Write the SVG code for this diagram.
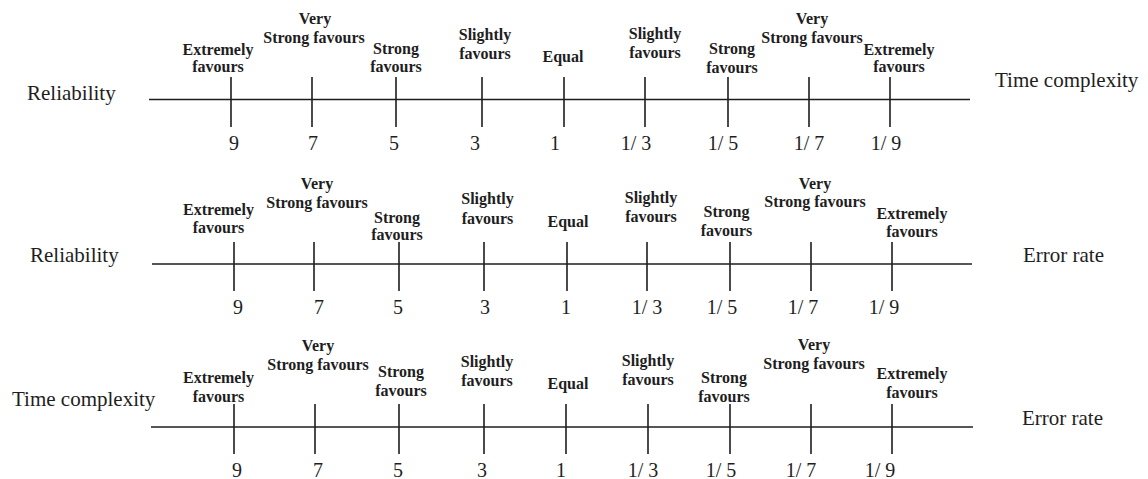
<svg xmlns="http://www.w3.org/2000/svg" width="1148" height="479" viewBox="0 0 1148 479">
  <style>
    .axis { stroke: #1e1e1e; stroke-width: 1.6; fill: none; }
    .lbl { font-family: "Liberation Serif", "Times New Roman", serif; font-weight: bold; font-size: 16px; fill: #1e1e1e; text-anchor: middle; }
    .side { font-family: "Liberation Serif", "Times New Roman", serif; font-size: 21px; fill: #1e1e1e; }
    .num { font-family: "Liberation Serif", "Times New Roman", serif; font-size: 20px; fill: #1e1e1e; text-anchor: middle; }
  </style>
  <rect width="1148" height="479" fill="#ffffff"/>

  <!-- Scale lines with tick marks -->
  <g id="connectors">
    <g id="scale-1-axis" class="axis">
      <line x1="149" y1="99.5" x2="970" y2="99.5"/>
      <path d="M231 77V127M312 77V127M396 77V127M482 77V127M564 77V127M645 77V127M728 77V127M809 77V127M890 77V127"/>
    </g>
    <g id="scale-2-axis" class="axis">
      <line x1="152" y1="264" x2="972" y2="264"/>
      <path d="M234 242V291M314 242V291M399 242V291M484 242V291M567 242V291M647 242V291M730 242V291M811 242V291M892 242V291"/>
    </g>
    <g id="scale-3-axis" class="axis">
      <line x1="151" y1="427" x2="973" y2="427"/>
      <path d="M234 404V454M315 404V454M399 404V454M484 404V454M566 404V454M648 404V454M730 404V454M811 404V454M892 404V454"/>
    </g>
  </g>

  <!-- Scale 1: Reliability vs Time complexity -->
  <g id="scale-1">
    <text class="side" x="27" y="100">Reliability</text>
    <text class="side" x="995" y="87">Time complexity</text>
    <g id="s1-extreme-left"><text class="lbl" x="218" y="55">Extremely</text><text class="lbl" x="218" y="72">favours</text></g>
    <g id="s1-verystrong-left"><text class="lbl" x="315" y="24">Very</text><text class="lbl" x="314" y="43">Strong favours</text></g>
    <g id="s1-strong-left"><text class="lbl" x="396" y="54">Strong</text><text class="lbl" x="396" y="72">favours</text></g>
    <g id="s1-slight-left"><text class="lbl" x="485" y="40">Slightly</text><text class="lbl" x="485" y="58.5">favours</text></g>
    <g id="s1-equal"><text class="lbl" x="563" y="61.5">Equal</text></g>
    <g id="s1-slight-right"><text class="lbl" x="655" y="39">Slightly</text><text class="lbl" x="655" y="57.5">favours</text></g>
    <g id="s1-strong-right"><text class="lbl" x="732" y="54">Strong</text><text class="lbl" x="732" y="73">favours</text></g>
    <g id="s1-verystrong-right"><text class="lbl" x="812" y="23.5">Very</text><text class="lbl" x="812" y="42.5">Strong favours</text></g>
    <g id="s1-extreme-right"><text class="lbl" x="899" y="55">Extremely</text><text class="lbl" x="899" y="72">favours</text></g>
    <g id="s1-values">
      <text class="num" x="234" y="150">9</text>
      <text class="num" x="313" y="150">7</text>
      <text class="num" x="394" y="150">5</text>
      <text class="num" x="475" y="150">3</text>
      <text class="num" x="555" y="150">1</text>
      <text class="num" x="636" y="150">1/ 3</text>
      <text class="num" x="723" y="150">1/ 5</text>
      <text class="num" x="809" y="150">1/ 7</text>
      <text class="num" x="886" y="150">1/ 9</text>
    </g>
  </g>

  <!-- Scale 2: Reliability vs Error rate -->
  <g id="scale-2">
    <text class="side" x="30" y="262">Reliability</text>
    <text class="side" x="1023" y="262">Error rate</text>
    <g id="s2-extreme-left"><text class="lbl" x="218.5" y="215">Extremely</text><text class="lbl" x="218.5" y="233">favours</text></g>
    <g id="s2-verystrong-left"><text class="lbl" x="317" y="189">Very</text><text class="lbl" x="317" y="208">Strong favours</text></g>
    <g id="s2-strong-left"><text class="lbl" x="397" y="223">Strong</text><text class="lbl" x="397" y="240">favours</text></g>
    <g id="s2-slight-left"><text class="lbl" x="487.5" y="204">Slightly</text><text class="lbl" x="487.5" y="223.5">favours</text></g>
    <g id="s2-equal"><text class="lbl" x="568" y="226.5">Equal</text></g>
    <g id="s2-slight-right"><text class="lbl" x="651" y="203">Slightly</text><text class="lbl" x="651" y="222">favours</text></g>
    <g id="s2-strong-right"><text class="lbl" x="726.5" y="217">Strong</text><text class="lbl" x="726.5" y="235.5">favours</text></g>
    <g id="s2-verystrong-right"><text class="lbl" x="815" y="188.5">Very</text><text class="lbl" x="815" y="206.5">Strong favours</text></g>
    <g id="s2-extreme-right"><text class="lbl" x="912" y="218.5">Extremely</text><text class="lbl" x="912" y="237">favours</text></g>
    <g id="s2-values">
      <text class="num" x="238" y="313.5">9</text>
      <text class="num" x="319" y="313.5">7</text>
      <text class="num" x="398" y="313.5">5</text>
      <text class="num" x="485" y="313.5">3</text>
      <text class="num" x="566" y="313.5">1</text>
      <text class="num" x="647" y="313.5">1/ 3</text>
      <text class="num" x="722" y="313.5">1/ 5</text>
      <text class="num" x="803" y="313.5">1/ 7</text>
      <text class="num" x="884" y="313.5">1/ 9</text>
    </g>
  </g>

  <!-- Scale 3: Time complexity vs Error rate -->
  <g id="scale-3">
    <text class="side" x="12" y="406">Time complexity</text>
    <text class="side" x="1022" y="425">Error rate</text>
    <g id="s3-extreme-left"><text class="lbl" x="218.5" y="383">Extremely</text><text class="lbl" x="218.5" y="402">favours</text></g>
    <g id="s3-verystrong-left"><text class="lbl" x="318" y="351">Very</text><text class="lbl" x="318" y="370">Strong favours</text></g>
    <g id="s3-strong-left"><text class="lbl" x="401" y="376.5">Strong</text><text class="lbl" x="401" y="395.5">favours</text></g>
    <g id="s3-slight-left"><text class="lbl" x="487" y="367">Slightly</text><text class="lbl" x="487" y="386">favours</text></g>
    <g id="s3-equal"><text class="lbl" x="568" y="389">Equal</text></g>
    <g id="s3-slight-right"><text class="lbl" x="648" y="366">Slightly</text><text class="lbl" x="648" y="385">favours</text></g>
    <g id="s3-strong-right"><text class="lbl" x="724" y="383">Strong</text><text class="lbl" x="724" y="402">favours</text></g>
    <g id="s3-verystrong-right"><text class="lbl" x="814" y="350">Very</text><text class="lbl" x="814" y="369">Strong favours</text></g>
    <g id="s3-extreme-right"><text class="lbl" x="912" y="379">Extremely</text><text class="lbl" x="912" y="398">favours</text></g>
    <g id="s3-values">
      <text class="num" x="237" y="476.5">9</text>
      <text class="num" x="318" y="476.5">7</text>
      <text class="num" x="398" y="476.5">5</text>
      <text class="num" x="482" y="476.5">3</text>
      <text class="num" x="561" y="476.5">1</text>
      <text class="num" x="643" y="476.5">1/ 3</text>
      <text class="num" x="721" y="476.5">1/ 5</text>
      <text class="num" x="801" y="476.5">1/ 7</text>
      <text class="num" x="880" y="476.5">1/ 9</text>
    </g>
  </g>
</svg>
